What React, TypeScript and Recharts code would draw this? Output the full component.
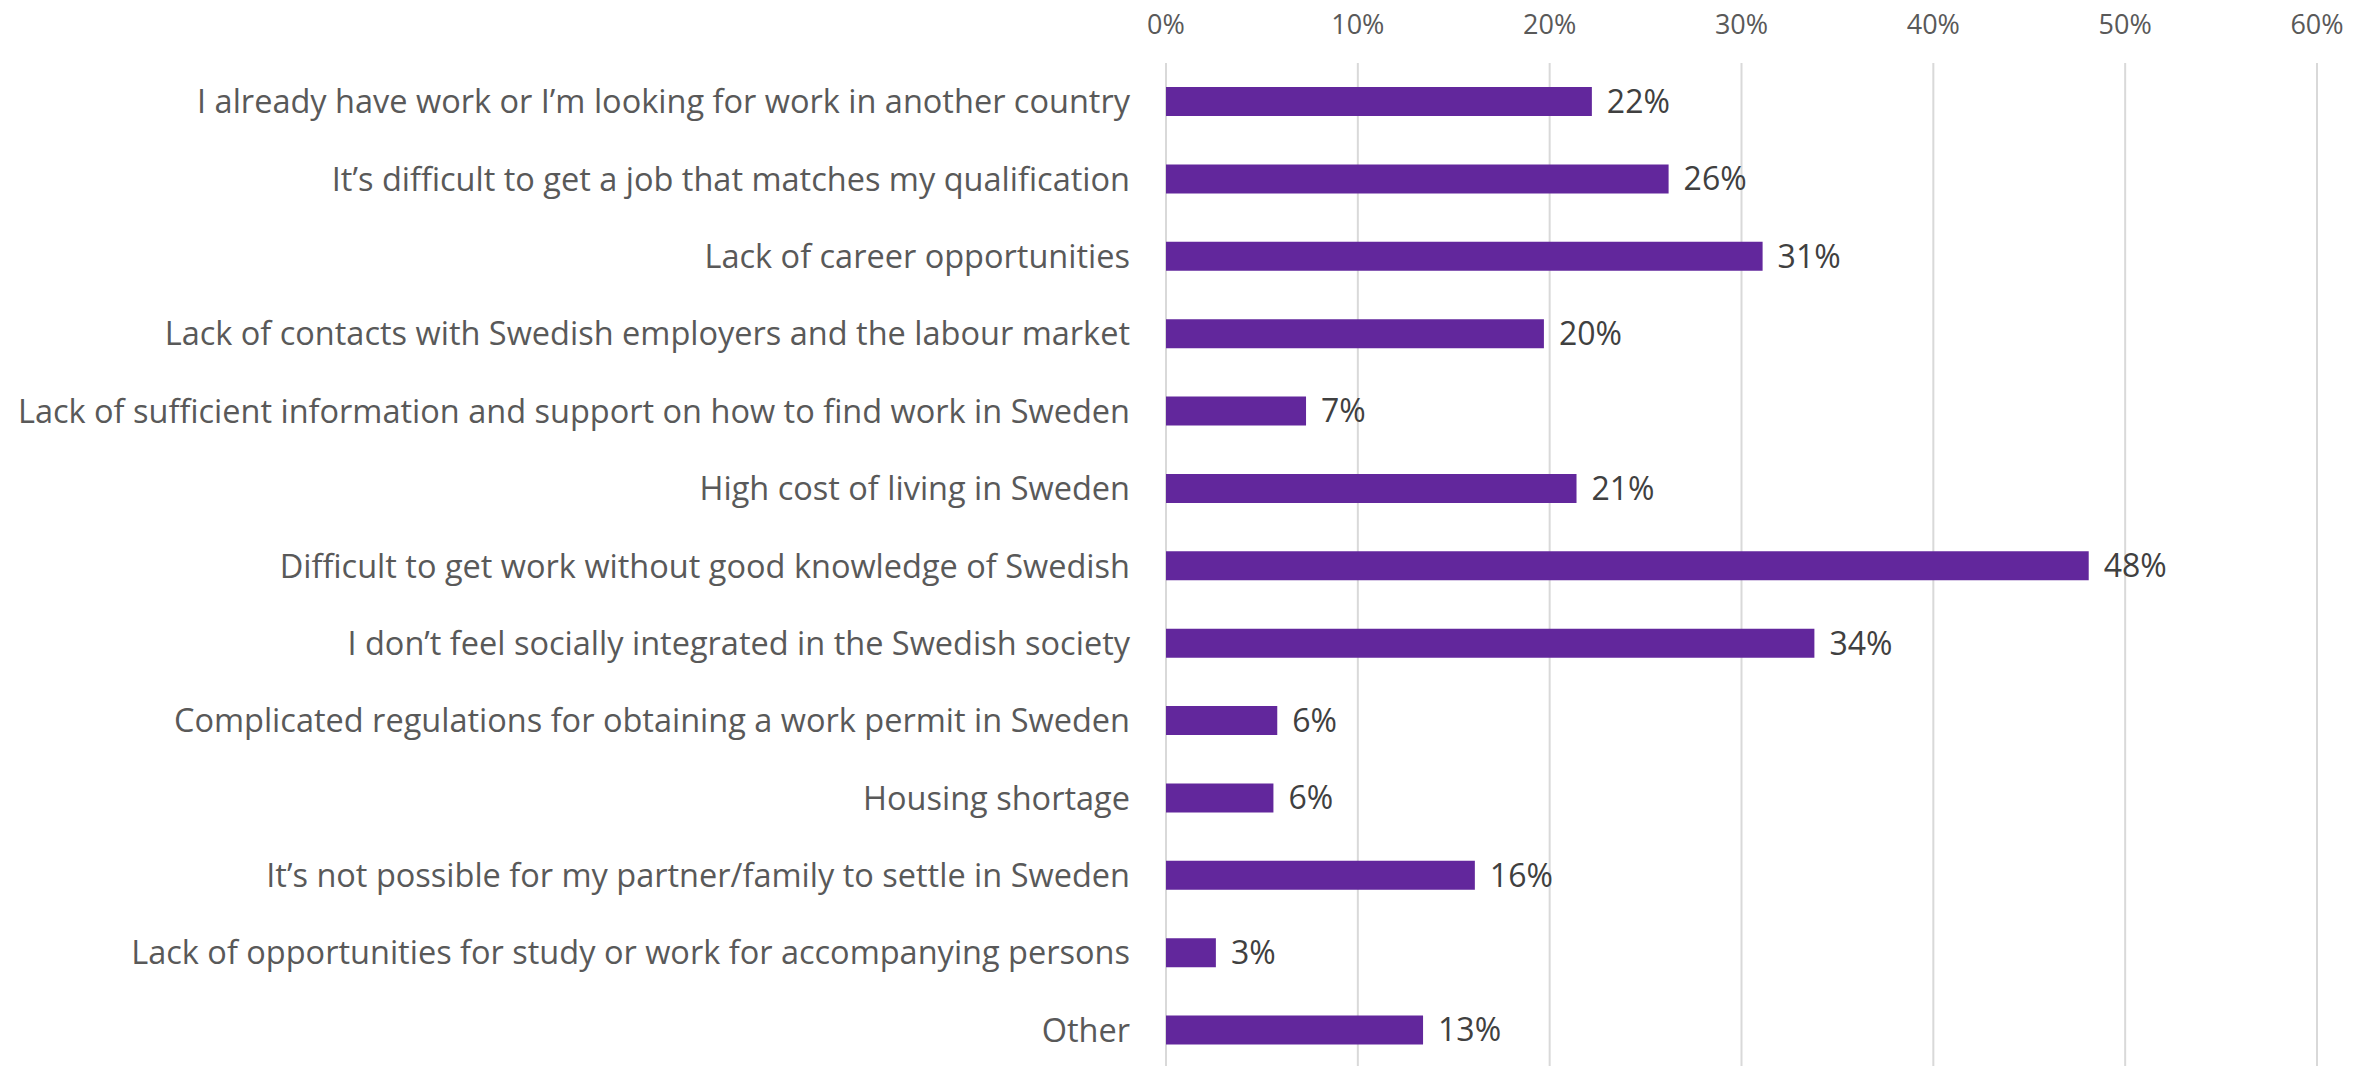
import React from "react";
import { BarChart, Bar, XAxis, YAxis, CartesianGrid, LabelList } from "recharts";

const categories = [
  "I already have work or I’m looking for work in another country",
  "It’s difficult to get a job that matches my qualification",
  "Lack of career opportunities",
  "Lack of contacts with Swedish employers and the labour market",
  "Lack of sufficient information and support on how to find work in Sweden",
  "High cost of living in Sweden",
  "Difficult to get work without good knowledge of Swedish",
  "I don’t feel socially integrated in the Swedish society",
  "Complicated regulations for obtaining a work permit in Sweden",
  "Housing shortage",
  "It’s not possible for my partner/family to settle in Sweden",
  "Lack of opportunities for study or work for accompanying persons",
  "Other",
];
const values = [22.2, 26.2, 31.1, 19.7, 7.3, 21.4, 48.1, 33.8, 5.8, 5.6, 16.1, 2.6, 13.4];
const xTicks = [0, 10, 20, 30, 40, 50, 60];

const data = categories.map((c, i) => ({ name: c, value: values[i] }));

const FONT = "'Open Sans', sans-serif";

export default function App() {
  return (
    <div style={{ position: "fixed", left: 0, top: 0, width: 2377, height: 1066, overflow: "hidden", background: "#fff" }}>
      <BarChart
        width={2377}
        height={1069}
        data={data}
        layout="vertical"
        margin={{ top: 0, right: 60, bottom: 0, left: 0 }}
        barCategoryGap={0}
      >
        <CartesianGrid horizontal={false} vertical={true} stroke="#d9d9d9" strokeWidth={2} />
        <XAxis
          type="number"
          orientation="top"
          domain={[0, 60]}
          ticks={xTicks}
          tickFormatter={(v: number) => `${v}%`}
          axisLine={false}
          tickLine={false}
          tickSize={0}
          tickMargin={29}
          height={63}
          tick={{ fill: "#595959", fontSize: 27, fontFamily: FONT }}
          interval={0}
        />
        <YAxis
          type="category"
          dataKey="name"
          width={1166}
          axisLine={false}
          tickLine={false}
          tickSize={0}
          tickMargin={36}
          interval={0}
          tick={{ fill: "#595959", fontSize: 32.5, fontFamily: FONT }}
        />
        <Bar dataKey="value" fill="#62279c" barSize={29} isAnimationActive={false}>
          <LabelList
            dataKey="value"
            position="right"
            offset={15}
            formatter={(v: number) => `${Math.round(v)}%`}
            style={{ fill: "#404040", fontSize: 32, fontFamily: FONT }}
          />
        </Bar>
      </BarChart>
    </div>
  );
}
